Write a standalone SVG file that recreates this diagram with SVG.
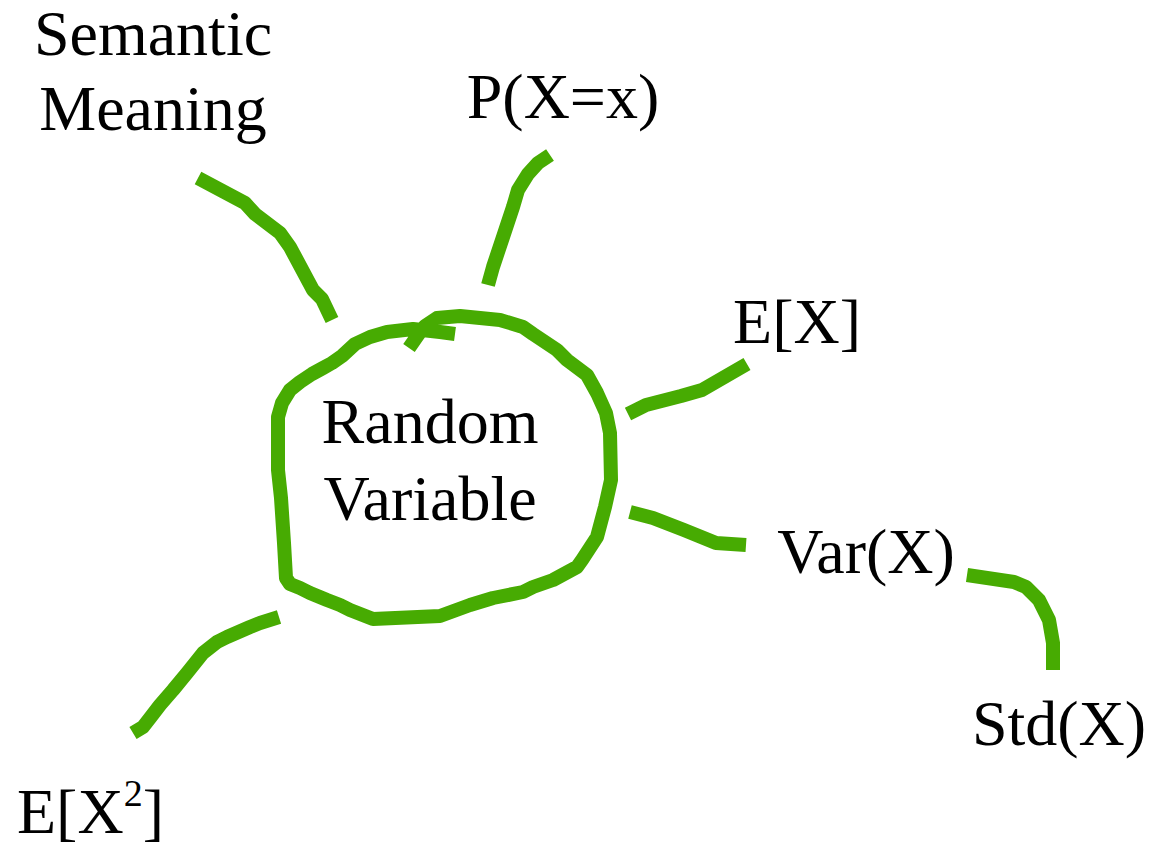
<svg xmlns="http://www.w3.org/2000/svg" width="1151" height="845" viewBox="0 0 1151 845">
<style>
.t{font-family:"Liberation Serif","Times New Roman",serif;font-size:64px;fill:#000;text-anchor:middle}
.s{fill:none;stroke:#47ab02;stroke-width:14;stroke-linejoin:round;stroke-linecap:butt}
</style>
<rect width="1151" height="845" fill="#fff"/>
<g id="connectors">
<path class="s" d="M198,178 L245,203 L255,214 L280,233 L290,247 L313,290 L322,299 L332,320"/>
<path class="s" d="M550,155 L538,163 L528,174 L518,190 L513,207 L493,267 L488,285"/>
<path class="s" d="M628,414 L646,405 L681,396 L702,390 L747,364"/>
<path class="s" d="M630,512 L653,518 L684,530 L716,543 L746,545"/>
<path class="s" d="M967,575 L1014,582 L1026,587 L1039,600 L1049,620 L1053,643 L1053,670"/>
<path class="s" d="M279,617 L260,623 L250,627 L227,637 L217,642 L203,653 L187,673 L173,690 L160,705 L150,718 L143,727 L133,733"/>
</g>
<g id="random-variable">
<path class="s" d="M409,348 L418,335 L425,326 L437,318 L460,316 L500,320 L523,327 L533,334 L557,350 L567,360 L587,375 L597,393 L606,413 L610,433 L611,480 L605,507 L597,537 L582,560 L577,567 L553,580 L533,587 L523,592 L493,598 L470,605 L440,616 L373,619 L350,610 L340,605 L327,600 L310,593 L300,588 L290,584 L286,578 L284,543 L281,498 L278,470 L278,417 L282,403 L290,390 L300,382 L312,374 L323,368 L332,363 L342,356 L355,344 L370,337 L387,332 L413,329 L440,332 L455,334"/>
<text class="t" x="430" y="443">Random</text>
<text class="t" x="430" y="520">Variable</text>
</g>
<g id="semantic-meaning">
<text class="t" x="153" y="55">Semantic</text>
<text class="t" x="153" y="130">Meaning</text>
</g>
<g id="pxx"><text class="t" x="563" y="118">P(X=x)</text></g>
<g id="ex"><text class="t" x="797" y="343">E[X]</text></g>
<g id="varx"><text class="t" x="866" y="573">Var(X)</text></g>
<g id="stdx"><text class="t" x="1059" y="745">Std(X)</text></g>
<g id="ex2"><text class="t" x="17" y="833" style="text-anchor:start">E[X<tspan font-size="38" dy="-27">2</tspan><tspan dy="27">]</tspan></text></g>
</svg>
